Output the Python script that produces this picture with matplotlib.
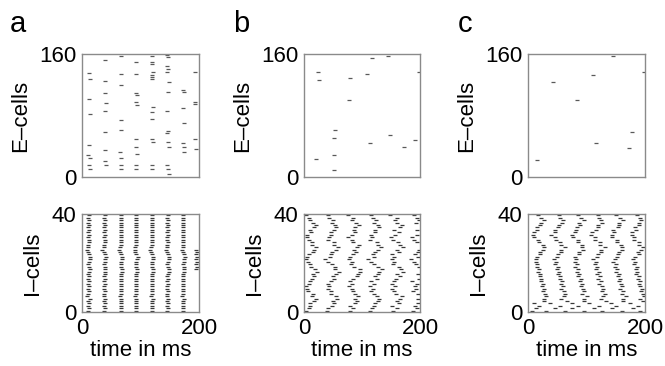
import matplotlib
matplotlib.use("Agg")
import matplotlib.pyplot as plt

plt.rcParams['font.family'] = ['Liberation Sans', 'DejaVu Sans']

# ---- E-cell spikes (time in ms, cell index) ----
e_a_times = [12, 13, 12, 13, 12, 11, 13, 12, 14,
             39, 40, 39, 41, 40, 39, 40, 39, 41,
             66, 67, 66, 67, 66, 65, 67, 66, 67,
             93, 93, 92, 94, 93, 94, 92, 93, 94, 92, 93,
             119, 120, 119, 121, 120, 119, 120, 121, 120, 119, 120, 121, 119, 120,
             146, 147, 146, 147, 146, 148, 147, 146, 147, 146, 147, 148, 146, 147, 148,
             173, 174, 173, 174, 173, 175, 174,
             193, 194, 193, 194, 195]
e_a_cells = [135, 127, 101, 82, 41, 28, 25, 15, 11,
             152, 125, 109, 96, 86, 59, 35, 21, 15,
             157, 134, 120, 74, 61, 33, 25, 15, 10,
             149, 134, 109, 107, 98, 94, 50, 39, 30, 15, 11,
             157, 150, 147, 136, 133, 130, 127, 91, 84, 76, 49, 46, 15, 10,
             159, 156, 144, 141, 137, 124, 110, 86, 60, 57, 46, 39, 15, 11, 4,
             113, 110, 90, 70, 44, 39, 33,
             137, 98, 95, 50, 37]

e_b_times = [24, 25, 20, 53, 52, 51, 51, 79, 78, 109, 117, 144, 113, 149, 172, 191, 198]
e_b_cells = [137, 126, 24, 61, 51, 28, 9, 129, 100, 134, 155, 158, 44, 55, 39, 48, 136]

e_c_times = [16, 43, 83, 111, 145, 116, 173, 178, 198]
e_c_cells = [22, 123, 100, 133, 157, 44, 38, 59, 136]

# ---- I-cell spike trains, one list per cell (cell 0 at bottom) ----
i_a = [
    [11, 38, 66, 92, 119, 146, 172],
    [12, 39, 67, 93, 120, 147, 173],
    [11, 38, 66, 93, 119, 146, 172],
    [12, 39, 66, 92, 120, 147, 173],
    [11, 38, 67, 93, 119, 146, 172],
    [13, 40, 67, 93, 121, 147, 174],
    [9, 37, 65, 91, 118, 145, 171],
    [11, 38, 66, 92, 119, 146, 172],
    [12, 39, 67, 93, 120, 147, 173],
    [11, 38, 66, 92, 119, 146, 172],
    [12, 38, 66, 93, 120, 146, 173],
    [11, 39, 67, 92, 119, 147, 172],
    [12, 38, 66, 93, 120, 146, 173],
    [11, 39, 67, 92, 119, 147, 172],
    [12, 38, 66, 93, 120, 146, 173],
    [11, 39, 67, 92, 119, 147, 172],
    [12, 40, 68, 94, 121, 148, 174],
    [13, 40, 68, 94, 121, 148, 175, 195],
    [12, 39, 67, 93, 120, 147, 174, 196],
    [11, 38, 66, 92, 119, 146, 173, 195],
    [12, 39, 67, 93, 120, 147, 174, 196],
    [13, 40, 68, 94, 121, 148, 175, 195],
    [14, 41, 69, 95, 122, 149, 176, 196],
    [12, 39, 67, 93, 120, 147, 174, 195],
    [10, 37, 65, 91, 118, 145, 172, 196],
    [8, 35, 63, 90, 117, 144, 171, 195],
    [10, 37, 65, 91, 118, 145, 172],
    [11, 38, 66, 92, 119, 146, 173],
    [12, 39, 67, 93, 120, 147, 173],
    [12, 39, 66, 93, 120, 146, 173],
    [11, 38, 66, 92, 119, 146, 172],
    [12, 39, 67, 93, 120, 147, 173],
    [11, 38, 66, 92, 119, 146, 172],
    [12, 39, 67, 93, 120, 147, 173],
    [11, 38, 66, 92, 119, 146, 172],
    [12, 39, 67, 93, 120, 147, 173],
    [11, 38, 66, 92, 119, 146, 172],
    [12, 39, 67, 93, 120, 147, 173],
    [11, 38, 66, 92, 119, 146, 172],
    [12, 39, 67, 93, 120, 147, 173],
]

i_b = [
    [4, 39, 79, 113, 153, 188],
    [8, 42, 84, 117, 160, 194],
    [10, 48, 80, 121, 151, 192],
    [11, 52, 88, 122, 163, 196],
    [17, 50, 92, 128, 161],
    [20, 57, 88, 129, 165, 197],
    [13, 55, 93, 126, 169],
    [15, 47, 88, 121, 158, 196],
    [7, 46, 84, 115, 156, 188],
    [5, 42, 82, 119, 152, 193],
    [3, 43, 77, 114, 157, 191],
    [9, 41, 83, 120, 151, 194],
    [11, 47, 79, 116, 155, 187],
    [14, 51, 85, 125, 158, 198],
    [18, 50, 91, 123, 165],
    [16, 56, 93, 128, 160, 196],
    [22, 60, 97, 130, 171],
    [19, 54, 96, 134, 168],
    [12, 53, 86, 127, 164, 198],
    [11, 48, 81, 120, 153, 193],
    [7, 41, 82, 115, 156, 189],
    [3, 37, 78, 111, 152, 185],
    [6, 45, 79, 121, 155, 197],
    [8, 47, 84, 119, 151, 191],
    [15, 48, 89, 122, 163, 196],
    [18, 55, 87, 127, 160, 199],
    [21, 59, 92, 133, 170],
    [14, 52, 94, 128, 166],
    [13, 51, 84, 125, 162, 195],
    [9, 42, 82, 114, 154, 190],
    [5, 43, 76, 117, 150, 187],
    [6, 46, 83, 116, 157, 194],
    [12, 46, 88, 122, 164],
    [11, 51, 87, 123, 155, 195],
    [17, 55, 88, 129, 166],
    [21, 54, 95, 128, 169],
    [16, 49, 89, 121, 161, 193],
    [10, 50, 83, 124, 157, 198],
    [8, 43, 85, 119, 161, 195],
    [4, 42, 75, 116, 149, 190],
]

i_c = [
    [6, 31, 63, 96, 127, 161, 191],
    [13, 46, 76, 112, 143, 180],
    [18, 54, 85, 122, 150, 188],
    [10, 38, 75, 105, 142, 174],
    [28, 66, 95, 133, 163, 197],
    [27, 56, 95, 124, 162, 191],
    [31, 62, 100, 129, 168, 198],
    [29, 64, 93, 131, 161, 197],
    [25, 61, 96, 126, 163, 193],
    [27, 57, 94, 129, 158, 195],
    [24, 60, 90, 127, 161, 192],
    [25, 56, 93, 122, 159, 190],
    [22, 58, 89, 125, 155, 192],
    [23, 54, 91, 120, 157, 188],
    [20, 55, 86, 123, 153, 189],
    [21, 51, 88, 118, 155, 185],
    [17, 53, 84, 121, 150, 187],
    [18, 49, 86, 116, 152, 184],
    [15, 51, 81, 118, 149, 186],
    [16, 47, 83, 114, 151, 182],
    [13, 48, 80, 116, 146, 183],
    [14, 45, 82, 111, 148, 180],
    [15, 50, 81, 118, 152, 183],
    [20, 51, 88, 119, 154, 189],
    [21, 57, 87, 125, 155, 188],
    [26, 56, 94, 124, 161, 194],
    [27, 63, 93, 131, 160, 197],
    [25, 56, 93, 123, 159, 190],
    [19, 55, 85, 123, 152, 189],
    [17, 48, 85, 115, 152, 182],
    [11, 47, 77, 114, 144, 181],
    [9, 40, 76, 107, 143, 178],
    [10, 46, 80, 110, 147, 177],
    [15, 47, 82, 117, 146, 184],
    [16, 52, 83, 119, 153, 183],
    [21, 53, 89, 120, 155, 190],
    [22, 58, 88, 126, 156, 189],
    [27, 59, 95, 125, 162, 193],
    [23, 55, 90, 122, 157, 191],
    [17, 53, 86, 120, 150, 187],
]

panel_letters = ['a', 'b', 'c']
n_e, n_i, t_max = 160, 40, 200

FRAME = '#8a8a8a'
SPIKE = '0.22'
FS = 16


def style(ax, ymax, show_x):
    ax.set_xlim(0, t_max)
    ax.set_ylim(0, ymax)
    ax.set_yticks([0, ymax])
    if show_x:
        ax.set_xticks([0, t_max])
    else:
        ax.set_xticks([])
    ax.tick_params(length=0, labelsize=FS, pad=4)
    for s in ax.spines.values():
        s.set_color(FRAME)
        s.set_linewidth(1.0)


def raster(ax, trains):
    for c, ts in enumerate(trains):
        ax.plot(ts, [c + 0.5] * len(ts), '_', ms=3.5, mew=0.9, color=SPIKE)


fig = plt.figure(figsize=(6.65, 3.66), dpi=100)
lefts = [82, 304, 528]
widths = [117, 116, 117]
letter_x = [10, 233, 458]

e_data = [(e_a_times, e_a_cells), (e_b_times, e_b_cells), (e_c_times, e_c_cells)]
i_data = [i_a, i_b, i_c]

for k in range(3):
    l = lefts[k] / 665
    w = widths[k] / 665
    ax_e = fig.add_axes([l, 1 - 177 / 366, w, 123 / 366])
    et, ec = e_data[k]
    ax_e.plot(et, ec, '_', ms=3.2, mew=0.9, color='0.35')
    style(ax_e, n_e, False)
    ax_e.set_ylabel('E\u2013cells', fontsize=FS, labelpad=6)

    ax_i = fig.add_axes([l, 1 - 312 / 366, w, 98 / 366])
    raster(ax_i, i_data[k])
    style(ax_i, n_i, True)
    ax_i.set_ylabel('I\u2013cells', fontsize=FS, labelpad=6)
    ax_i.set_xlabel('time in ms', fontsize=FS, labelpad=1)

    fig.text(letter_x[k] / 665, 1 - 32 / 366, panel_letters[k], fontsize=21,
             ha='left', va='baseline')

fig.savefig('out.png', dpi=100)
